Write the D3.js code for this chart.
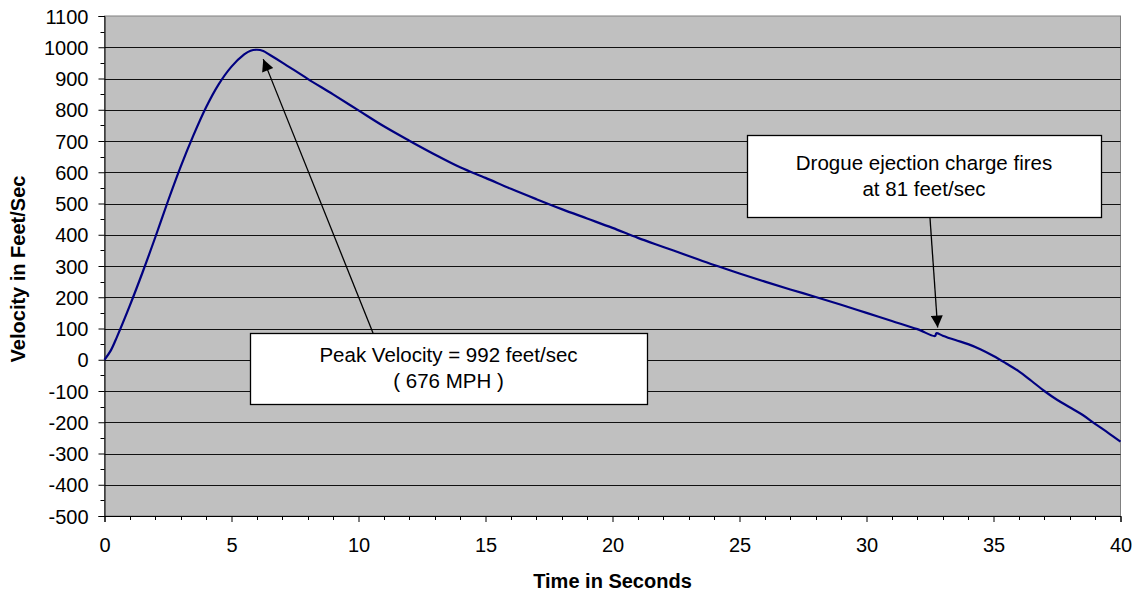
<!DOCTYPE html>
<html><head><meta charset="utf-8">
<script src="https://cdn.jsdelivr.net/npm/d3@7"></script>
<style>
html,body{margin:0;padding:0;background:#fff;}
text{font-family:"Liberation Sans",Arial,sans-serif;fill:#000;}
</style></head>
<body>
<svg id="chart" width="1139" height="597"></svg>
<script>
// Time (s) and velocity (ft/s)
const timeSec = [0,0.25,0.5,1,1.5,2,2.5,3,3.5,4,4.5,5,5.5,5.75,6,6.25,6.5,7,8,9,10,11,12,13,14,15,16,17,18,19,20,21,22,23,24,25,26,27,28,29,30,31,32,32.7,32.75,33,33.5,34,34.5,35,35.5,36,36.5,37,37.5,38,38.5,39,39.5,40];
const velocity = [0,30,75,174,280,392,508,618,718,808,882,938,977,989,992,988,976,951,899,849,798,747,701,657,616,582,547,514,482,452,422,390,361,332,303,276,250,225,201,176,150,124,98,76,85,77,63,50,33,12,-12,-37,-68,-100,-128,-152,-176,-205,-233,-262];
const xTicks = [0,5,10,15,20,25,30,35,40];
const yTicks = [-500,-400,-300,-200,-100,0,100,200,300,400,500,600,700,800,900,1000,1100];
const xTitle = "Time in Seconds";
const yTitle = "Velocity in Feet/Sec";
const peakNote = ["Peak Velocity = 992 feet/sec", "( 676 MPH )"];
const peakPoint = [6.25, 962];
const drogueNote = ["Drogue ejection charge fires", "at 81 feet/sec"];
const droguePoint = [32.8, 103];

const svg = d3.select("#chart");
const L = 104.5, R = 1120.5, T = 16, B = 516;
const x = d3.scaleLinear().domain([0,40]).range([L,R]);
const y = d3.scaleLinear().domain([-500,1100]).range([B,T]);

// plot background
svg.append("rect").attr("x",L).attr("y",T).attr("width",R-L).attr("height",B-T)
  .attr("fill","#C0C0C0").attr("stroke","#808080").attr("stroke-width",1);

// gridlines
svg.append("g").selectAll("line").data(yTicks.filter(v=>v>-500 && v<1100)).join("line")
  .attr("x1",L).attr("x2",R).attr("y1",d=>Math.round(y(d))+0.5).attr("y2",d=>Math.round(y(d))+0.5)
  .attr("stroke","#111").attr("stroke-width",1);

// y axis
const yAxis = d3.axisLeft(y).tickValues(yTicks).tickSize(6).tickPadding(10).tickFormat(d=>String(d));
const gy = svg.append("g").attr("transform",`translate(${L},0)`).call(yAxis);
gy.selectAll("text").style("font-size","20px").attr("dy","0.36em");
gy.select(".domain").attr("stroke","#000");
// minor y ticks
svg.append("g").selectAll("line").data(d3.range(-450,1100,100)).join("line")
  .attr("x1",L-4).attr("x2",L).attr("y1",d=>Math.round(y(d))+0.5).attr("y2",d=>Math.round(y(d))+0.5)
  .attr("stroke","#000");

// x axis
const xAxis = d3.axisBottom(x).tickValues(xTicks).tickSize(6).tickPadding(16).tickFormat(d=>String(d));
const gx = svg.append("g").attr("transform",`translate(0,${B})`).call(xAxis);
gx.selectAll("text").style("font-size","20px");
gx.select(".domain").attr("stroke","#000");
svg.append("g").selectAll("line").data(d3.range(0,41,1).filter(v=>v%5!==0)).join("line")
  .attr("x1",d=>Math.round(x(d))+0.5).attr("x2",d=>Math.round(x(d))+0.5).attr("y1",B).attr("y2",B+4)
  .attr("stroke","#000");

// axis titles
svg.append("text").attr("x",(L+R)/2).attr("y",588).attr("text-anchor","middle")
  .style("font-size","20px").style("font-weight","bold").text(xTitle);
svg.append("text").attr("transform",`translate(25,${(T+B)/2+3}) rotate(-90)`).attr("text-anchor","middle")
  .style("font-size","20px").style("font-weight","bold").text(yTitle);

// data line
const line = d3.line().x((d,i)=>x(timeSec[i])).y(d=>y(d)).curve(d3.curveCatmullRom.alpha(0.5));
svg.append("path").datum(velocity).attr("d",line).attr("fill","none")
  .attr("stroke","#000080").attr("stroke-width",2.2).attr("stroke-linejoin","round");

// arrow marker
svg.append("defs").append("marker").attr("id","ah").attr("viewBox","0 0 10 10")
  .attr("refX",10).attr("refY",5).attr("markerWidth",15).attr("markerHeight",12)
  .attr("markerUnits","userSpaceOnUse").attr("orient","auto")
  .append("path").attr("d","M0,0 L10,5 L0,10 Z").attr("fill","#000");

// annotation boxes
function note(lines, bx, by, bw, bh, fromX, fromY, target, base1, gap){
  svg.append("line").attr("x1",fromX).attr("y1",fromY)
    .attr("x2",x(target[0])).attr("y2",y(target[1]))
    .attr("stroke","#000").attr("stroke-width",1.3).attr("marker-end","url(#ah)");
  svg.append("rect").attr("x",bx+0.5).attr("y",by+0.5).attr("width",bw).attr("height",bh)
    .attr("fill","#fff").attr("stroke","#000").attr("stroke-width",1.3);
  lines.forEach((t,i)=>{
    svg.append("text").attr("x",bx+bw/2).attr("y",base1+i*gap).attr("text-anchor","middle")
      .style("font-size","20.5px").text(t);
  });
}
note(peakNote, 250, 333, 397, 71, 373, 333, peakPoint, 362, 26);
note(drogueNote, 747, 135, 354, 82, 930, 218, droguePoint, 170, 26);
</script>
</body></html>
